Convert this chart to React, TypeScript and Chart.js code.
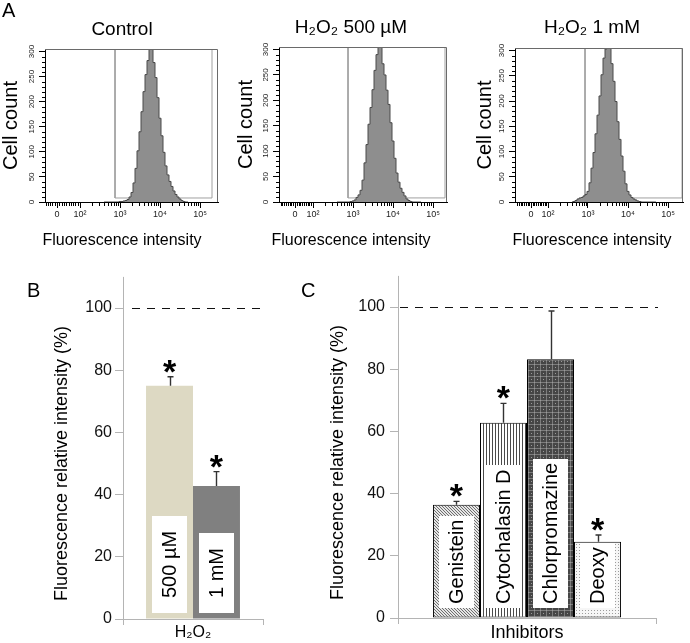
import React, { useEffect, useRef } from 'react';
import { Chart, registerables } from 'chart.js';

Chart.register(...registerables);

const FONT = "'Liberation Sans', Arial, Helvetica, sans-serif";

// ---------------- Panel A : flow cytometry histograms ----------------
const histTitles = ['Control', 'H₂O₂ 500 µM', 'H₂O₂ 1 mM'];
const histXTitle = 'Fluorescence intensity';
const histYTitle = 'Cell count';
// bin centres on the display axis (3 = 10³, 4 = 10⁴ ...)
const histBins = [
  2.6, 2.65, 2.7, 2.75, 2.8, 2.85, 2.9, 2.95,
  3.0, 3.05, 3.1, 3.15, 3.2, 3.25, 3.3, 3.35, 3.4, 3.45,
  3.5, 3.55, 3.6, 3.65, 3.7, 3.75, 3.8, 3.85, 3.9, 3.95,
  4.0, 4.05, 4.1, 4.15, 4.2, 4.25, 4.3, 4.35, 4.4, 4.45,
  4.5, 4.55, 4.6, 4.65, 4.7,
];
const histControl = [
  0, 0, 0, 0, 0, 0, 0, 0,
  1, 1, 2, 3, 5, 10, 19, 38, 67, 102,
  140, 180, 220, 254, 282, 306, 318, 278, 248, 208,
  167, 132, 99, 72, 54, 41, 31, 22, 15, 10,
  6, 3, 1, 0, 0,
];
const histH2O2500 = [
  0, 0, 0, 0, 0, 0, 0, 1,
  2, 4, 9, 14, 23, 43, 77, 113, 153, 186,
  221, 259, 290, 318, 306, 272, 250, 220, 192, 156,
  120, 86, 57, 39, 27, 19, 12, 6, 3, 1,
  0, 0, 0, 0, 0,
];
const histH2O21mM = [
  0, 1, 3, 6, 8, 9, 12, 15,
  21, 38, 67, 98, 135, 172, 210, 252, 285, 303,
  322, 306, 274, 239, 199, 159, 124, 91, 61, 36,
  21, 14, 9, 6, 4, 2, 1, 0, 0, 0,
  0, 0, 0, 0, 0,
];
const histCounts = [histControl, histH2O2500, histH2O21mM];
const histZeroTick = [1.425, 1.55, 1.575];
const histDecadeTicks = [2, 3, 4, 5];
const histTickLabels = ['0', '10²', '10³', '10⁴', '10⁵'];
const histXMin = [1.125, 1.15, 1.175];
const histXMax = [5.45, 5.35, 5.375];
const histGateLow = [2.875, 2.875, 2.925];
const histGateHigh = [5.3, 5.3, 5.35];
const histGateFloor = 8;
const histYMax = 305;
const cellCountStep = 50;
const linearMinorValues = [-80, -70, -60, -50, -40, -30, -20, -10, 10, 20, 30, 40, 50, 60, 70, 80, 90];
const logMinorFactors = [2, 3, 4, 5, 6, 7, 8, 9];

// ---------------- Panel B ----------------
const bCategory = ['H₂O₂'];
const bSeries = ['500 µM', '1 mM'];
const bMeans = [75, 42.8];
const bErrors = [2.9, 4.6];
const bSignificant = [true, true];

// ---------------- Panel C ----------------
const cCategory = ['Inhibitors'];
const cSeries = ['Genistein', 'Cytochalasin D', 'Chlorpromazine', 'Deoxy'];
const cMeans = [36.4, 62.8, 83.2, 24.5];
const cErrors = [1.1, 6.2, 15.5, 2.2];
const cSignificant = [true, true, false, true];

const yTitleBC = 'Fluorescence relative intensity (%)';
const referenceLevel = 100;
const yAxisExtent = 110;

const AXIS_GRAY = '#b4b4b4';

// layout of the three histogram canvases
const histLayout = [
  { yWidth: 45, spacer: 26, titleTop: 18.6, titleBottom: 7.6, yTitlePad: -1 },
  { yWidth: 44, spacer: 20, titleTop: 16.6, titleBottom: 7.6, yTitlePad: -1 },
  { yWidth: 45, spacer: 31, titleTop: 16.6, titleBottom: 8.6, yTitlePad: 3 },
];

function histConfig(i: number): any {
  const L = histLayout[i];
  const z = histZeroTick[i];
  const minorX: number[] = [];
  linearMinorValues.forEach((v) => minorX.push(z + ((2 - z) * v) / 100));
  [2, 3, 4].forEach((n) => logMinorFactors.forEach((k) => minorX.push(n + Math.log10(k))));
  const minorY: number[] = [];
  for (let v = 10; v <= 300; v += 10) if (v % cellCountStep !== 0) minorY.push(v);

  const decor = {
    id: 'histDecor',
    afterDatasetsDraw(chart: any) {
      const ctx = chart.ctx;
      const a = chart.chartArea;
      const xs = chart.scales.x;
      const ys = chart.scales.y;
      ctx.save();
      ctx.lineWidth = 1;
      // frame (top & right)
      ctx.strokeStyle = '#6a6a6a';
      ctx.beginPath();
      const t = Math.round(a.top) + 0.5;
      const r = Math.round(a.right) - 0.5;
      ctx.moveTo(a.left, t);
      ctx.lineTo(r, t);
      ctx.lineTo(r, a.bottom);
      ctx.stroke();
      // minor ticks
      ctx.strokeStyle = '#000';
      ctx.beginPath();
      minorX.forEach((v) => {
        if (v <= histXMin[i] || v >= histXMax[i]) return;
        const px = Math.round(xs.getPixelForValue(v)) + 0.5;
        ctx.moveTo(px, a.bottom);
        ctx.lineTo(px, a.bottom + 4);
      });
      minorY.forEach((v) => {
        const py = Math.round(ys.getPixelForValue(v)) + 0.5;
        ctx.moveTo(a.left - 3, py);
        ctx.lineTo(a.left, py);
      });
      ctx.stroke();
      ctx.restore();
    },
  };

  return {
    type: 'line',
    data: {
      datasets: [
        {
          data: histBins.map((b, j) => ({ x: b, y: histCounts[i][j] })),
          borderColor: '#4a4a4a',
          borderWidth: 1,
          backgroundColor: '#8e8e8e',
          fill: 'origin',
          pointRadius: 0,
          stepped: 'middle',
          clip: 0,
        },
        {
          data: [
            { x: histGateLow[i], y: 1000 },
            { x: histGateLow[i], y: histGateFloor },
            { x: histGateHigh[i], y: histGateFloor },
            { x: histGateHigh[i], y: 1000 },
          ],
          borderColor: '#a0a0a0',
          borderWidth: 1,
          fill: false,
          pointRadius: 0,
          tension: 0,
          clip: 0,
        },
      ],
    },
    options: {
      animation: false,
      responsive: false,
      maintainAspectRatio: false,
      layout: { padding: 0 },
      plugins: {
        legend: { display: false },
        tooltip: { enabled: false },
        title: {
          display: true,
          text: histTitles[i],
          color: '#000',
          font: { family: FONT, size: 19, weight: 'normal', lineHeight: 1.2 },
          padding: { top: L.titleTop, bottom: L.titleBottom },
        },
        subtitle: {
          display: true,
          position: 'bottom',
          text: histXTitle,
          color: '#000',
          font: { family: FONT, size: 16, weight: 'normal', lineHeight: 1.2 },
          padding: { top: 0, bottom: 9.4 },
        },
      },
      scales: {
        x: {
          type: 'linear',
          min: histXMin[i],
          max: histXMax[i],
          afterFit: (s: any) => { s.height = 29.4; },
          afterBuildTicks: (s: any) => { s.ticks = [z, ...histDecadeTicks].map((v) => ({ value: v })); },
          ticks: {
            autoSkip: false,
            maxRotation: 0,
            callback: (_v: any, idx: number) => histTickLabels[idx],
            font: { family: FONT, size: 9 },
            color: '#222',
            padding: 1,
          },
          grid: { display: true, drawOnChartArea: false, drawTicks: true, tickLength: 6, color: '#000' },
          border: { display: true, color: '#000' },
        },
        y: {
          type: 'linear',
          min: 0,
          max: histYMax,
          afterFit: (s: any) => { s.width = L.yWidth; },
          ticks: {
            stepSize: cellCountStep,
            includeBounds: false,
            minRotation: 90,
            maxRotation: 90,
            crossAlign: 'center',
            font: { family: FONT, size: 8 },
            color: '#222',
            padding: 1,
          },
          grid: { display: true, drawOnChartArea: false, drawTicks: true, tickLength: 6, color: '#000' },
          border: { display: true, color: '#000' },
          title: {
            display: true,
            text: histYTitle,
            color: '#000',
            font: { family: FONT, size: 20, lineHeight: 1.2 },
            padding: { top: L.yTitlePad, bottom: 0 },
          },
        },
        spacer: {
          type: 'linear',
          position: 'right',
          display: true,
          afterFit: (s: any) => { s.width = L.spacer; },
          ticks: { display: false },
          grid: { display: false },
          border: { display: false },
        },
      },
    },
    plugins: [decor],
  };
}

function makePattern(size: number, draw: (c: CanvasRenderingContext2D) => void): any {
  const t = document.createElement('canvas');
  t.width = size;
  t.height = size;
  const c = t.getContext('2d')!;
  draw(c);
  return c.createPattern(t, 'repeat');
}

interface BarParams {
  category: string[];
  names: string[];
  means: number[];
  errors: number[];
  sig: boolean[];
  fills: any[];
  borderWidth: number;
  catPct: number;
  padTop: number;
  padRight: number;
  xHeight: number;
  yWidth: number;
  yTickPad: number;
  yTitlePad: number;
  xFont: number;
  xPad: number;
  boxInset: number;
  boxBottom: number;
  boxPad: number;
  dashStart: number;
  starSize: number;
  starDy: number;
}

function barConfig(p: BarParams): any {
  const decor = {
    id: 'barDecor',
    afterDatasetsDraw(chart: any) {
      const ctx = chart.ctx;
      const ys = chart.scales.y;
      const a = chart.chartArea;
      const base = ys.getPixelForValue(0);
      ctx.save();
      // y axis line extending above 100
      const ax = Math.round(a.left - 0.5) + 0.5;
      ctx.strokeStyle = AXIS_GRAY;
      ctx.lineWidth = 1;
      ctx.beginPath();
      ctx.moveTo(ax, base + 5);
      ctx.lineTo(ax, ys.getPixelForValue(yAxisExtent));
      ctx.stroke();
      // dashed reference line
      const ry = Math.round(ys.getPixelForValue(referenceLevel)) + 0.5;
      ctx.strokeStyle = '#111';
      ctx.setLineDash([8, 7]);
      ctx.beginPath();
      ctx.moveTo(a.left + p.dashStart, ry);
      ctx.lineTo(a.right + 2, ry);
      ctx.stroke();
      ctx.setLineDash([]);
      p.names.forEach((name, i) => {
        const bar = chart.getDatasetMeta(i).data[0];
        if (!bar) return;
        const { x, y, width } = bar.getProps(['x', 'y', 'width'], true);
        // white label box with rotated text
        ctx.font = `20px ${FONT}`;
        const tw = ctx.measureText(name).width;
        const bw = width - 2 * p.boxInset;
        const bBottom = base - p.boxBottom;
        const bh = tw + 2 * p.boxPad;
        ctx.fillStyle = '#fff';
        ctx.fillRect(Math.round(x - bw / 2), Math.round(bBottom - bh), Math.round(bw), Math.round(bh));
        ctx.save();
        ctx.translate(x + 1, bBottom - p.boxPad);
        ctx.rotate(-Math.PI / 2);
        ctx.fillStyle = '#000';
        ctx.textAlign = 'left';
        ctx.textBaseline = 'middle';
        ctx.fillText(name, 0, 0);
        ctx.restore();
        // error bar (upper half)
        const et = ys.getPixelForValue(p.means[i] + p.errors[i]);
        const ex = Math.round(x) + 0.5;
        ctx.strokeStyle = '#333';
        ctx.lineWidth = 1.4;
        ctx.beginPath();
        ctx.moveTo(ex, y);
        ctx.lineTo(ex, et);
        ctx.moveTo(ex - 3, et);
        ctx.lineTo(ex + 3, et);
        ctx.stroke();
        if (p.sig[i]) {
          ctx.fillStyle = '#000';
          ctx.font = `bold ${p.starSize}px ${FONT}`;
          ctx.textAlign = 'center';
          ctx.textBaseline = 'alphabetic';
          ctx.fillText('*', x, et + p.starDy);
        }
      });
      ctx.restore();
    },
  };

  return {
    type: 'bar',
    data: {
      labels: p.category,
      datasets: p.names.map((n, i) => ({
        label: n,
        data: [p.means[i]],
        backgroundColor: p.fills[i],
        borderColor: '#000',
        borderWidth: p.borderWidth,
        borderSkipped: false,
        categoryPercentage: p.catPct,
        barPercentage: 1,
      })),
    },
    options: {
      animation: false,
      responsive: false,
      maintainAspectRatio: false,
      layout: { padding: { top: p.padTop, right: p.padRight, left: 0, bottom: 0 } },
      plugins: { legend: { display: false }, tooltip: { enabled: false } },
      scales: {
        x: {
          afterFit: (s: any) => { s.height = p.xHeight; },
          grid: { display: true, drawOnChartArea: false, drawTicks: true, tickLength: 6, color: AXIS_GRAY, offset: true },
          border: { display: true, color: AXIS_GRAY },
          ticks: { font: { family: FONT, size: p.xFont }, color: '#000', padding: p.xPad },
        },
        y: {
          min: 0,
          max: 100,
          afterFit: (s: any) => { s.width = p.yWidth; },
          ticks: { stepSize: 20, includeBounds: false, font: { family: FONT, size: 16 }, color: '#111', padding: p.yTickPad },
          grid: { display: true, drawOnChartArea: false, drawTicks: true, tickLength: 8, color: AXIS_GRAY },
          border: { display: false },
          title: {
            display: true,
            text: yTitleBC,
            color: '#000',
            font: { family: FONT, size: 18, lineHeight: 1.2 },
            padding: { top: p.yTitlePad, bottom: 0 },
          },
        },
      },
    },
    plugins: [decor],
  };
}

function configB(): any {
  return barConfig({
    category: bCategory,
    names: bSeries,
    means: bMeans,
    errors: bErrors,
    sig: bSignificant,
    fills: ['#ddd9c3', '#808080'],
    borderWidth: 0,
    catPct: 0.671,
    padTop: 46,
    padRight: 37,
    xHeight: 24,
    yWidth: 123,
    yTickPad: 3,
    yTitlePad: 51,
    xFont: 16,
    xPad: -2,
    boxInset: 6,
    boxBottom: 6,
    boxPad: 15,
    dashStart: 9,
    starSize: 34,
    starDy: 6,
  });
}

function configC(): any {
  const genistein = makePattern(3, (c) => {
    c.fillStyle = '#e6e6e6';
    c.fillRect(0, 0, 3, 3);
    c.fillStyle = '#6e6e6e';
    for (let k = 0; k < 3; k++) c.fillRect(k, k, 1, 1);
  });
  const cytochalasin = makePattern(3, (c) => {
    c.fillStyle = '#ffffff';
    c.fillRect(0, 0, 3, 3);
    c.fillStyle = '#4a4a4a';
    c.fillRect(0, 0, 1, 3);
  });
  const chlorpromazine = makePattern(6, (c) => {
    c.fillStyle = '#464646';
    c.fillRect(0, 0, 6, 6);
    c.fillStyle = '#7c7c7c';
    c.fillRect(0, 0, 6, 1);
    c.fillRect(0, 0, 1, 6);
    c.fillStyle = '#9a9a9a';
    c.fillRect(3, 3, 1, 1);
    c.fillRect(0, 0, 1, 1);
  });
  const deoxy = makePattern(3, (c) => {
    c.fillStyle = '#f6f6f6';
    c.fillRect(0, 0, 3, 3);
    c.fillStyle = '#9c9c9c';
    c.fillRect(0, 0, 1, 1);
  });
  return barConfig({
    category: cCategory,
    names: cSeries,
    means: cMeans,
    errors: cErrors,
    sig: cSignificant,
    fills: [genistein, cytochalasin, chlorpromazine, deoxy],
    borderWidth: 1,
    catPct: 0.729,
    padTop: 45,
    padRight: 34,
    xHeight: 25,
    yWidth: 98,
    yTickPad: 5,
    yTitlePad: 27,
    xFont: 18,
    xPad: -2,
    boxInset: 6,
    boxBottom: 10,
    boxPad: 4,
    dashStart: 2,
    starSize: 34,
    starDy: 6,
  });
}

function ChartCanvas(props: { left: number; top: number; width: number; height: number; make: () => any }) {
  const ref = useRef<HTMLCanvasElement>(null);
  useEffect(() => {
    const chart = new Chart(ref.current as HTMLCanvasElement, props.make());
    return () => chart.destroy();
  }, []);
  return (
    <div style={{ position: 'absolute', left: props.left, top: props.top, width: props.width, height: props.height }}>
      <canvas ref={ref} width={props.width} height={props.height} style={{ display: 'block', width: props.width, height: props.height }} />
    </div>
  );
}

const letterStyle: React.CSSProperties = {
  position: 'absolute',
  fontFamily: FONT,
  fontSize: 20,
  lineHeight: '20px',
  color: '#000',
};

export default function App() {
  return (
    <div style={{ position: 'absolute', left: 0, top: 0, width: 690, height: 643, overflow: 'hidden', background: '#fff' }}>
      <ChartCanvas left={0} top={0} width={244} height={260} make={() => histConfig(0)} />
      <ChartCanvas left={235} top={0} width={232} height={260} make={() => histConfig(1)} />
      <ChartCanvas left={470} top={0} width={244} height={260} make={() => histConfig(2)} />
      <ChartCanvas left={0} top={262} width={300} height={381} make={configB} />
      <ChartCanvas left={300} top={262} width={390} height={381} make={configC} />
      <div style={{ ...letterStyle, left: 2, top: 0 }}>A</div>
      <div style={{ ...letterStyle, left: 27, top: 280 }}>B</div>
      <div style={{ ...letterStyle, left: 301, top: 280 }}>C</div>
    </div>
  );
}
